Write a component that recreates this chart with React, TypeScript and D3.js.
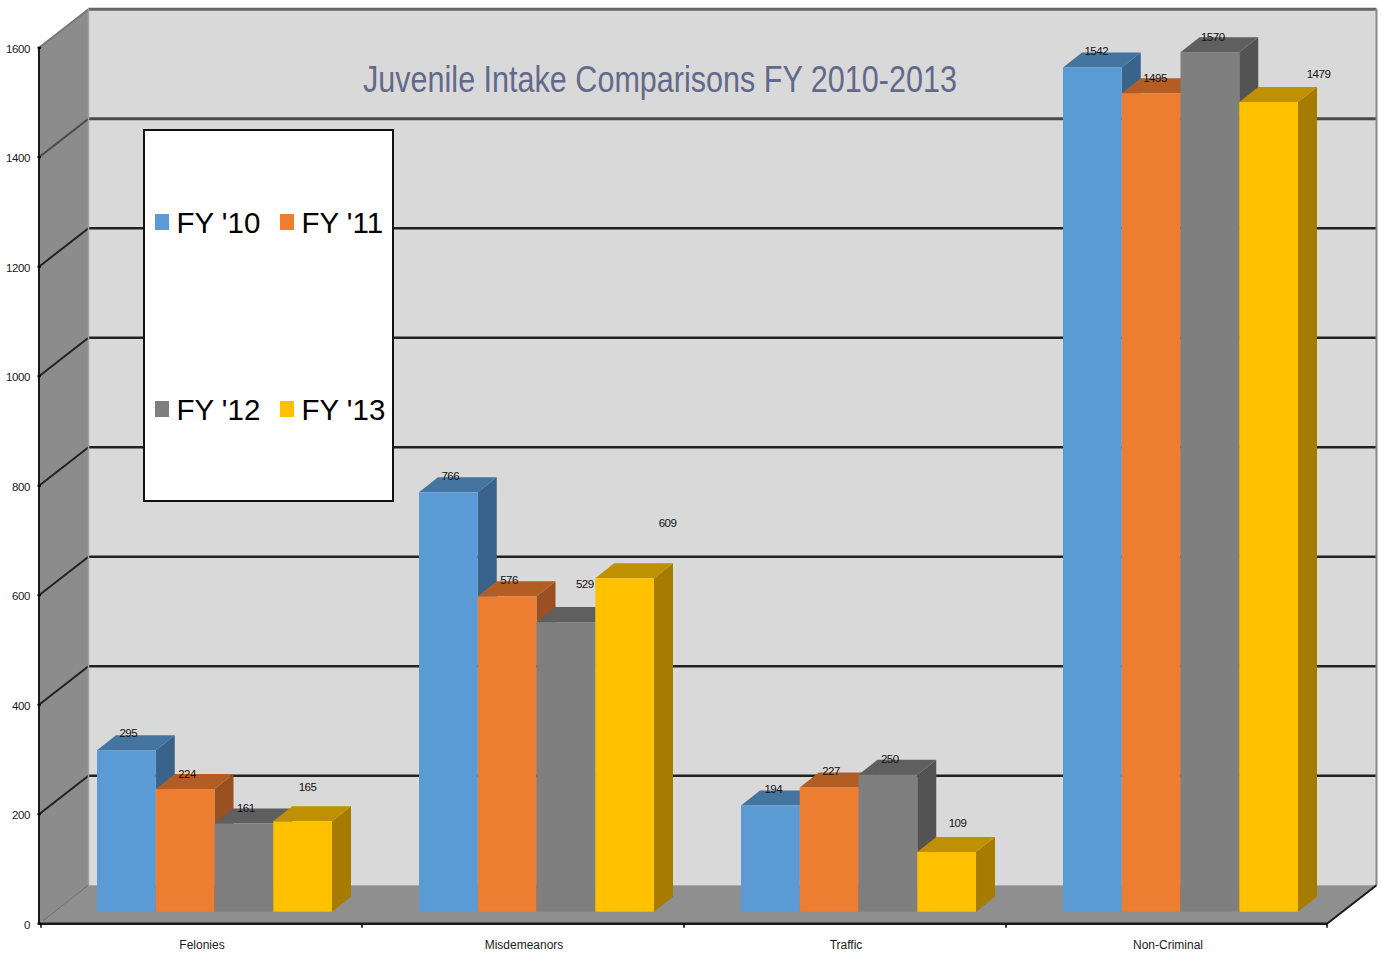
import React from "react";
import * as d3 from "d3";

const categories = ["Felonies", "Misdemeanors", "Traffic", "Non-Criminal"];
const seriesNames = ["FY '10", "FY '11", "FY '12", "FY '13"];
const fy10 = [295, 766, 194, 1542];
const fy11 = [224, 576, 227, 1495];
const fy12 = [161, 529, 250, 1570];
const fy13 = [165, 609, 109, 1479];
const seriesValues = [fy10, fy11, fy12, fy13];
const yTicks = [0, 200, 400, 600, 800, 1000, 1200, 1400, 1600];

// Front, top and side shades for each series.
const frontColors = ["#5b9bd5", "#ed7d31", "#7f7f7f", "#ffc000"];
const topColors = ["#4474a0", "#b25d24", "#5f5f5f", "#bf9000"];
const sideColors = ["#39638a", "#9a5020", "#535353", "#a67c00"];

// Hand-placed data label nudges, [dx, dy] from the bar's top centre, per series then category.
const labelNudges = [
  [[2, -17], [2, -16], [3, -16], [4, -16]],
  [[2, -15], [2, -16], [2, -16], [4, -15]],
  [[2, -15], [19, -38], [2, -15], [3, -15]],
  [[5, -34], [43, -55], [11, -29], [50, -27]],
];

const WIDTH = 1381;
const HEIGHT = 954;
const DEPTH_X = 49.5;
const DEPTH_Y = 38.5;
const BAR_DEPTH_X = 19;
const BAR_DEPTH_Y = 15;
const FLOOR_INSET = 12;
const SANS = "'Liberation Sans', Arial, sans-serif";

const x0 = d3.scaleBand<string>().domain(categories).range([39, 1327]);
const x1 = d3.scaleBand<string>().domain(seriesNames).range([58, 293]);
const y = d3.scaleLinear().domain([0, 1600]).range([923.7, 47.7]);

function polygon(points: [number, number][]): string {
  const p = d3.path();
  points.forEach(([px, py], i) => (i === 0 ? p.moveTo(px, py) : p.lineTo(px, py)));
  p.closePath();
  return p.toString();
}

function Bar({ s, c }: { s: number; c: number }) {
  const value = seriesValues[s][c];
  const left = (x0(categories[c]) ?? 0) + (x1(seriesNames[s]) ?? 0);
  const right = left + x1.bandwidth();
  const top = y(value) - FLOOR_INSET;
  const base = y(0) - FLOOR_INSET;
  return (
    <g>
      <path
        d={polygon([
          [right, top],
          [right + BAR_DEPTH_X, top - BAR_DEPTH_Y],
          [right + BAR_DEPTH_X, base - BAR_DEPTH_Y],
          [right, base],
        ])}
        fill={sideColors[s]}
      />
      <path
        d={polygon([
          [left, top],
          [left + BAR_DEPTH_X, top - BAR_DEPTH_Y],
          [right + BAR_DEPTH_X, top - BAR_DEPTH_Y],
          [right, top],
        ])}
        fill={topColors[s]}
      />
      <rect x={left} y={top} width={right - left} height={base - top} fill={frontColors[s]} />
    </g>
  );
}

function gridStroke(tick: number): { stroke: string; width: number } {
  if (tick === 1600) return { stroke: "#666666", width: 3 };
  if (tick === 1400) return { stroke: "#4a4a4a", width: 3 };
  return { stroke: "#222222", width: 2.5 };
}

export default function App() {
  const left = x0.range()[0];
  const right = x0.range()[1];
  const legendRows = [
    { swatchY: 214, baseline: 232.5 },
    { swatchY: 401, baseline: 419.5 },
  ];
  const legendCols = [
    { swatchX: 155, textX: 176.5 },
    { swatchX: 280, textX: 301.5 },
  ];

  return (
    <svg
      width={WIDTH}
      height={HEIGHT}
      viewBox={`0 0 ${WIDTH} ${HEIGHT}`}
      style={{ position: "absolute", left: 0, top: 0, display: "block", background: "#ffffff" }}
      fontFamily={SANS}
    >
      {/* Back and side walls */}
      <rect x={left + DEPTH_X} y={y(1600) - DEPTH_Y} width={right - left} height={y(0) - y(1600)} fill="#d9d9d9" />
      <path
        d={polygon([
          [left, y(1600)],
          [left + DEPTH_X, y(1600) - DEPTH_Y],
          [left + DEPTH_X, y(0) - DEPTH_Y],
          [left, y(0)],
        ])}
        fill="#8c8c8c"
      />

      {/* Gridlines run along the back wall and down the side wall */}
      {yTicks
        .filter((t) => t > 0)
        .map((t) => {
          const g = gridStroke(t);
          return (
            <g key={t} fill="none">
              <line x1={left + DEPTH_X} x2={right + DEPTH_X} y1={y(t) - DEPTH_Y} y2={y(t) - DEPTH_Y} stroke={g.stroke} strokeWidth={g.width} />
              <line x1={left} x2={left + DEPTH_X} y1={y(t)} y2={y(t) - DEPTH_Y} stroke={t === 1600 ? "#777777" : g.stroke} strokeWidth={2} />
            </g>
          );
        })}
      <line x1={left + DEPTH_X} x2={left + DEPTH_X} y1={y(1600) - DEPTH_Y} y2={y(0) - DEPTH_Y} stroke="#a3a3a3" strokeWidth={1.5} />
      <line x1={right + DEPTH_X} x2={right + DEPTH_X} y1={y(1600) - DEPTH_Y} y2={y(0) - DEPTH_Y} stroke="#8a8a8a" strokeWidth={2} />

      {/* Floor */}
      <path
        d={polygon([
          [left, y(0)],
          [left + DEPTH_X, y(0) - DEPTH_Y],
          [right + DEPTH_X, y(0) - DEPTH_Y],
          [right, y(0)],
        ])}
        fill="#8f8f8f"
      />
      <line x1={left + 4} y1={y(0) - 3} x2={left + DEPTH_X} y2={y(0) - DEPTH_Y} stroke="#6a6a6a" strokeWidth={1} />
      <line x1={right} y1={y(0)} x2={right + DEPTH_X} y2={y(0) - DEPTH_Y} stroke="#1a1a1a" strokeWidth={2} />

      {/* Bars, painted left to right so each one overlaps its neighbour's side */}
      {categories.map((_, c) => (
        <g key={c}>
          {seriesNames.map((_, s) => (
            <Bar key={s} s={s} c={c} />
          ))}
        </g>
      ))}

      {/* Axes */}
      <line x1={left} x2={left} y1={y(1600)} y2={y(0) + 1} stroke="#1a1a1a" strokeWidth={2} />
      <line x1={left} x2={right} y1={y(0)} y2={y(0)} stroke="#1a1a1a" strokeWidth={2.5} />
      {yTicks.map((t) => (
        <g key={t}>
          <line x1={left - 1.5} x2={left + 2} y1={y(t)} y2={y(t)} stroke="#000000" strokeWidth={2} />
          <text x={30} y={y(t) + 5} textAnchor="end" fontSize={11.5} letterSpacing={-0.4} fill="#1a1a1a">
            {t}
          </text>
        </g>
      ))}
      {categories.map((cat, i) => (
        <line
          key={cat}
          x1={(x0(cat) ?? 0) + (i === 0 ? 2 : 1)}
          x2={(x0(cat) ?? 0) + (i === 0 ? 2 : 1)}
          y1={y(0)}
          y2={y(0) + 4}
          stroke="#000000"
          strokeWidth={1.5}
        />
      ))}
      <line x1={right} x2={right} y1={y(0)} y2={y(0) + 4} stroke="#000000" strokeWidth={1.5} />
      {categories.map((cat) => (
        <text
          key={cat}
          x={(x0(cat) ?? 0) + x0.bandwidth() / 2 + 2}
          y={949}
          textAnchor="middle"
          fontSize={12}
          fill="#1a1a1a"
        >
          {cat}
        </text>
      ))}

      {/* Value labels */}
      {categories.map((cat, c) =>
        seriesNames.map((name, s) => {
          const [dx, dy] = labelNudges[s][c];
          const cx = (x0(cat) ?? 0) + (x1(name) ?? 0) + x1.bandwidth() / 2;
          return (
            <text
              key={name + cat}
              x={cx + dx}
              y={y(seriesValues[s][c]) - FLOOR_INSET + dy + 3.5}
              textAnchor="middle"
              fontSize={11.5}
              letterSpacing={-0.4}
              fill="#111111"
            >
              {seriesValues[s][c]}
            </text>
          );
        }),
      )}

      {/* Legend */}
      <rect x={144} y={130} width={249} height={371} fill="#ffffff" stroke="#111111" strokeWidth={2} />
      {seriesNames.map((name, i) => {
        const row = legendRows[Math.floor(i / 2)];
        const col = legendCols[i % 2];
        return (
          <g key={name}>
            <rect x={col.swatchX} y={row.swatchY} width={14} height={16} fill={frontColors[i]} />
            <text x={col.textX} y={row.baseline} fontSize={29.5} fill="#000000">
              {name}
            </text>
          </g>
        );
      })}

      {/* Title */}
      <text x={363} y={92} fontSize={37.5} fill="#63698a" textLength={594} lengthAdjust="spacingAndGlyphs">
        Juvenile Intake Comparisons FY 2010-2013
      </text>
    </svg>
  );
}
